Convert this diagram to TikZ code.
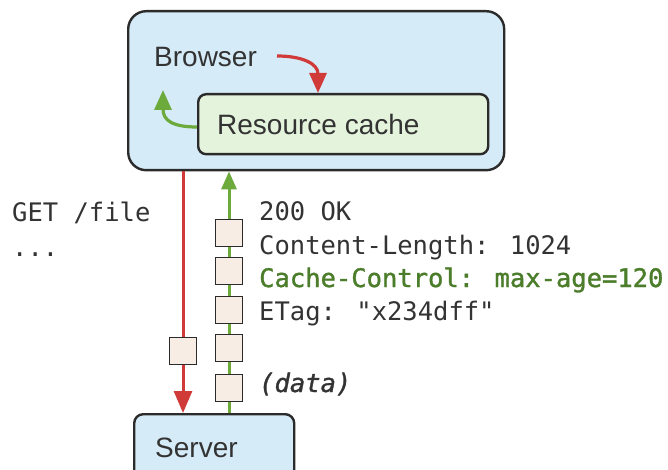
\documentclass[tikz,border=0pt]{standalone}
\usepackage{fontspec}
\setmainfont{Liberation Sans}
\newfontfamily\monof{DejaVu Sans Mono}
\newfontfamily\monosb{DejaVu Sans Mono}[FakeBold=1.3]
\usetikzlibrary{arrows.meta}
\definecolor{bfill}{HTML}{D6EBF8}
\definecolor{gfill}{HTML}{E4F3DC}
\definecolor{pfill}{HTML}{F8EDE5}
\definecolor{bord}{HTML}{2B2B2B}
\definecolor{ared}{HTML}{D03A38}
\definecolor{agreen}{HTML}{6CAA3C}
\definecolor{tgreen}{HTML}{4B7D2B}
\definecolor{txt}{HTML}{333333}
\tikzset{
  box/.style={draw=bord, line width=2.4pt, anchor=north west, inner sep=0pt},
  sanslbl/.style={anchor=base west, inner sep=0pt, text=txt, font=\fontsize{28}{32}\selectfont},
  monolbl/.style={anchor=base west, inner sep=0pt, text=txt, font=\monof\fontsize{25.5}{30}\selectfont},
  packet/.style={draw=bord, line width=1.7pt, fill=pfill, minimum width=27pt, minimum height=27pt, inner sep=0pt},
  redarr/.style={draw=ared, line width=3.2pt, -{Triangle[length=20pt,width=17pt]}},
  greenarr/.style={draw=agreen, line width=3.2pt, -{Triangle[length=20pt,width=17pt]}},
  redvert/.style={draw=ared, line width=3pt, -{Triangle[length=22pt,width=18pt]}},
  greenvert/.style={draw=agreen, line width=3pt, -{Triangle[length=18pt,width=15pt]}}
}
\begin{document}
\begin{tikzpicture}[x=1pt,y=-1pt]
\useasboundingbox (0,0) rectangle (668,470);
\clip (0,0) rectangle (668,470);
\fill[white] (0,0) rectangle (668,470);

% boxes
\node[box, fill=bfill, rounded corners=18pt, minimum width=376pt, minimum height=159pt] (browser) at (127,10) {};
\node[box, fill=gfill, rounded corners=8pt, minimum width=290pt, minimum height=60pt] (rc) at (197,93) {};
\node[box, fill=bfill, rounded corners=9pt, minimum width=160pt, minimum height=80pt] (server) at (133,413) {};

\node[sanslbl] (blabel) at (154,67) {Browser};
\node[sanslbl] (rclabel) at (217,135) {Resource cache};
\node[sanslbl] (slabel) at (155,457) {Server};

% curved arrows inside browser
\coordinate (rs) at (277,56);
\coordinate (rt) at (318,0);
\draw[redarr] (rs) .. controls (303,56) and (318,64) .. (rc.north -| rt);
\coordinate (gy) at (0,127);
\coordinate (gt) at (163,90);
\draw[greenarr] (rc.west |- gy) .. controls (172,127) and (163,120) .. (gt);

% vertical connectors
\coordinate (rx) at (183,0);
\coordinate (gx) at (229,0);
\draw[redvert] (browser.south -| rx) -- (server.north -| rx);
\draw[greenvert] (server.north -| gx) -- (browser.south -| gx);

% packets
\node[packet] (q0) at (183,351) {};
\node[packet] (p1) at (229,233) {};
\node[packet] (p2) at (229,271) {};
\node[packet] (p3) at (229,310) {};
\node[packet] (p4) at (229,348) {};
\node[packet] (p5) at (229,388) {};

% texts
\node[monolbl] (get) at (12,221) {GET /file};
\node[monolbl] (dots) at (12,256) {...};
\node[monolbl] (ok) at (259,220) {200 OK};
\node[monolbl] (cl) at (259,254) {Content-Length: 1024};
\node[monolbl, text=tgreen, font=\monosb\fontsize{25.5}{30}\selectfont] (cc) at (259,287) {Cache-Control: max-age=120};
\node[monolbl] (et) at (259,320) {ETag: "x234dff"};
\node[monolbl, font=\monosb\itshape\fontsize{25.5}{30}\selectfont] (dt) at (259,392) {(data)};
\end{tikzpicture}
\end{document}
